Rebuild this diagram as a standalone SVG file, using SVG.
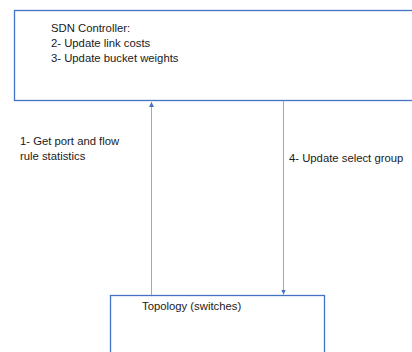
<svg xmlns="http://www.w3.org/2000/svg" width="412" height="352" viewBox="0 0 412 352">
<defs>
<style>
.box{fill:#fff;stroke:#4472C4;stroke-width:1.3}
.t{font-family:"Liberation Sans",Arial,sans-serif;font-size:11.3px;fill:#1a1a1a}
.c{stroke:#8FAADC;stroke-width:1;fill:none}
</style>
<marker id="ah" viewBox="0 0 6 6" refX="6" refY="3" markerWidth="5" markerHeight="5" orient="auto" markerUnits="userSpaceOnUse">
<path d="M0,0 L6,3 L0,6 z" fill="#4472C4"/>
</marker>
</defs>
<rect width="412" height="352" fill="#fff"/>
<g id="controller">
<rect class="box" x="14.5" y="10.5" width="410" height="90"/>
<text class="t" x="51" y="32">SDN Controller:</text>
<text class="t" x="51" y="47">2- Update link costs</text>
<text class="t" x="51" y="62">3- Update bucket weights</text>
</g>
<g id="topology">
<rect class="box" x="110.5" y="295.5" width="214" height="70"/>
<text class="t" x="142" y="310">Topology (switches)</text>
</g>
<g id="connectors">
<line class="c" x1="151.5" y1="295" x2="151.5" y2="102" marker-end="url(#ah)"/>
<line class="c" x1="283.5" y1="101" x2="283.5" y2="294.5" marker-end="url(#ah)"/>
</g>
<g id="labels">
<text class="t" x="20" y="145">1- Get port and flow</text>
<text class="t" x="20" y="160">rule statistics</text>
<text class="t" x="289" y="162">4- Update select group</text>
</g>
</svg>
